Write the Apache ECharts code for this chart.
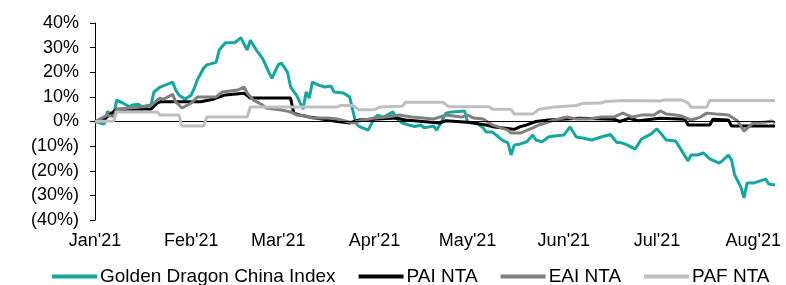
<!DOCTYPE html>
<html>
<head>
<meta charset="utf-8">
<script src="https://cdn.jsdelivr.net/npm/echarts@6/dist/echarts.min.js"></script>
<style>
  html, body { margin: 0; padding: 0; background: #fff; }
  #chart { width: 786px; height: 285px; }
</style>
</head>
<body>
<div id="chart"></div>
<script>
// x values are days since 1 Jan 2021, y values are % returns
const monthLabels = ["Jan'21", "Feb'21", "Mar'21", "Apr'21", "May'21", "Jun'21", "Jul'21", "Aug'21"];
const monthStarts = [0, 31, 59, 90, 120, 151, 181, 212];
const lastDay = 219;

const seriesNames = ['Golden Dragon China Index', 'PAI NTA', 'EAI NTA', 'PAF NTA'];
const seriesColors = ['#14A79D', '#000000', '#808080', '#BFBFBF'];

const goldenDragon = [
  [0, 0], [3, -1], [4, 4], [6, 2.6], [7, 8.7], [9, 7.5], [11, 6], [12, 6.7], [14, 7], [15, 6],
  [18, 6.7], [19, 12], [21, 14], [23, 15], [25, 16], [26, 12.8], [27, 10.8], [29, 9], [31, 10.8],
  [32, 13.6], [33, 17], [35, 21.7], [36, 23], [39, 24], [40, 29], [42, 32], [45, 32], [47, 34],
  [49, 29], [50, 33], [52, 29], [54, 25.5], [56, 20], [57, 17.5], [59, 23], [60, 23.8], [62, 20],
  [63, 14], [65, 10.5], [67, 5], [68, 12], [69, 9.5], [70, 16], [72, 14.8], [74, 14], [76, 14.4],
  [77, 12], [80, 11.6], [82, 10], [84, -0.6], [85, -2], [88, -3.5], [90, 1.4], [91, 2.6], [93, 1.8],
  [96, 3.9], [97, 1.4], [99, -0.6], [101, -1.4], [103, -2], [105, -1.4], [106, -2.6], [109, -1.8],
  [110, -3.5], [111, -1.4], [113, 3.4], [115, 3.9], [119, 4.3], [120, -0.2], [123, -0.6], [125, -2.6],
  [126, -4.3], [128, -4.3], [130, -6.3], [131, -7.5], [133, -8.7], [134, -13.6], [135, -9.6],
  [137, -9.1], [139, -8.3], [141, -5.5], [142, -7.5], [144, -8.3], [146, -6.3], [148, -5.9],
  [151, -5.5], [153, -2.2], [155, -6.3], [157, -6.7], [160, -7.5], [163, -6.3], [166, -5.3],
  [168, -8.5], [169, -8.5], [171, -9.3], [174, -11.2], [176, -7.1], [179, -5.1], [181, -3],
  [184, -7.5], [187, -7.9], [191, -16], [192, -13.6], [194, -13.6], [196, -12.8], [197, -14],
  [198, -15.2], [201, -16.9], [202, -16], [204, -13.6], [205, -15.6], [206, -21.7], [208, -26.6],
  [209, -31], [210, -25], [212, -25], [216, -23.4], [217, -25.4], [219, -25.8]
];

const paiNta = [
  [0, 0], [3, 1], [7, 5], [18, 5], [20, 7.5], [21, 8], [34, 8], [38, 9], [40, 10], [42, 10.8],
  [48, 11.5], [50, 9.5], [63, 9.5], [64, 3.4], [66, 2.6], [69, 1.8], [78, 0], [82, -0.6], [85, 0.6],
  [97, 1.4], [100, 0.6], [111, -0.6], [113, 0.3], [120, -0.3], [126, -1.4], [128, -2.1], [133, -2.8],
  [135, -3.2], [137, -2.1], [139, -1.4], [142, 0], [146, 0.6], [156, 1.3], [167, 0.9], [169, 0],
  [172, 1.3], [175, 0.3], [182, 1.3], [190, 0.9], [191, -1.4], [198, -1.4], [199, 0.9], [204, 0.6],
  [205, -1.8], [219, -1.8]
];

const eaiNta = [
  [0, 0], [4, 2.6], [6, 2], [7, 5], [18, 6.3], [20, 8.7], [21, 9.5], [22, 9], [25, 11], [26, 8],
  [28, 5.5], [31, 7.5], [33, 10], [39, 10], [41, 12], [46, 12.8], [48, 14], [49, 11.6], [51, 8.7],
  [54, 6.7], [55, 5.5], [60, 4.7], [63, 3.9], [65, 2.6], [68, 2.2], [70, 1.4], [75, 1.4], [78, 1],
  [83, -0.6], [85, 0.2], [90, 1.4], [94, 1.8], [98, 2.6], [102, 1.8], [109, 1], [113, 2.6],
  [118, 1.8], [120, 2.6], [122, 1.4], [125, 1], [128, -1.4], [133, -3.5], [134, -4.7], [137, -4.7],
  [141, -2.6], [143, -1.4], [148, 0.6], [152, 1.8], [155, 1], [159, 1], [163, 1.8], [167, 1.8],
  [170, 3.4], [173, 1.8], [176, 2.6], [180, 2.6], [182, 4.3], [184, 3], [187, 2.6], [189, 2.2],
  [192, 0.6], [195, 1.8], [197, 3.4], [200, 3], [204, 2.6], [207, 0.2], [209, -3.9], [212, -0.6],
  [216, -0.2], [218, 0.2], [219, -0.6]
];

const pafNta = [
  [0, 0], [6, 0.2], [7, 3.9], [20, 3.9], [21, 2.6], [27, 2.6], [28, -1.8], [35, -1.8], [36, 1.8],
  [49, 1.8], [50, 5.9], [78, 5.9], [79, 6.5], [83, 6.5], [85, 4.8], [90, 4.8], [92, 5.9], [99, 6.2],
  [100, 7.8], [112, 7.8], [114, 6], [127, 6], [128, 5], [134, 5], [135, 3], [141, 3], [143, 5],
  [148, 5.9], [155, 6.5], [157, 7.3], [163, 7.5], [164, 8], [170, 8.5], [182, 8.3], [183, 8.7],
  [189, 8.7], [191, 7.6], [192, 5.8], [197, 5.8], [198, 8.5], [219, 8.5]
];

const yMin = -40, yMax = 40, yStep = 10;

const allData = [goldenDragon, paiNta, eaiNta, pafNta];

let myChart = echarts.init(document.getElementById('chart'));

const series = allData.map((arr, i) => ({
  name: seriesNames[i],
  type: 'line',
  data: arr,
  symbol: 'none',
  lineStyle: { color: seriesColors[i], width: 3 },
  itemStyle: { color: seriesColors[i] },
  z: 2 + i
}));

// zero line across the plot
series[0].markLine = {
  silent: true,
  symbol: ['none', 'none'],
  label: { show: false },
  lineStyle: { color: '#000', width: 1, type: 'solid' },
  data: [{ yAxis: 0 }]
};

const option = {
  animation: false,
  textStyle: { fontFamily: 'Liberation Sans, Arial, sans-serif' },
  grid: { left: 95, right: 11, top: 23, bottom: 65, containLabel: false },
  legend: {
    data: seriesNames,
    left: 47,
    top: 262,
    icon: 'rect',
    itemWidth: 45,
    itemHeight: 4,
    itemGap: 23,
    textStyle: { color: '#000', fontSize: 19, padding: [0, 0, 0, -2], fontFamily: 'Liberation Sans, Arial, sans-serif' }
  },
  xAxis: {
    type: 'value',
    min: 0,
    max: lastDay,
    axisLine: { show: false },
    axisTick: { show: false },
    splitLine: { show: false },
    axisLabel: {
      customValues: monthStarts,
      formatter: v => monthLabels[monthStarts.indexOf(v)],
      color: '#000',
      fontSize: 18,
      margin: 12,
      hideOverlap: false
    }
  },
  yAxis: {
    type: 'value',
    min: yMin,
    max: yMax,
    interval: yStep,
    axisLine: { show: true, lineStyle: { color: '#000', width: 1 } },
    axisTick: { show: true, length: 5, lineStyle: { color: '#000' } },
    splitLine: { show: false },
    axisLabel: {
      color: '#000',
      fontSize: 18,
      margin: 16,
      formatter: v => v < 0 ? '(' + (-v) + '%)' : v + '%'
    }
  },
  series: series
};

myChart.setOption(option);
</script>
</body>
</html>
